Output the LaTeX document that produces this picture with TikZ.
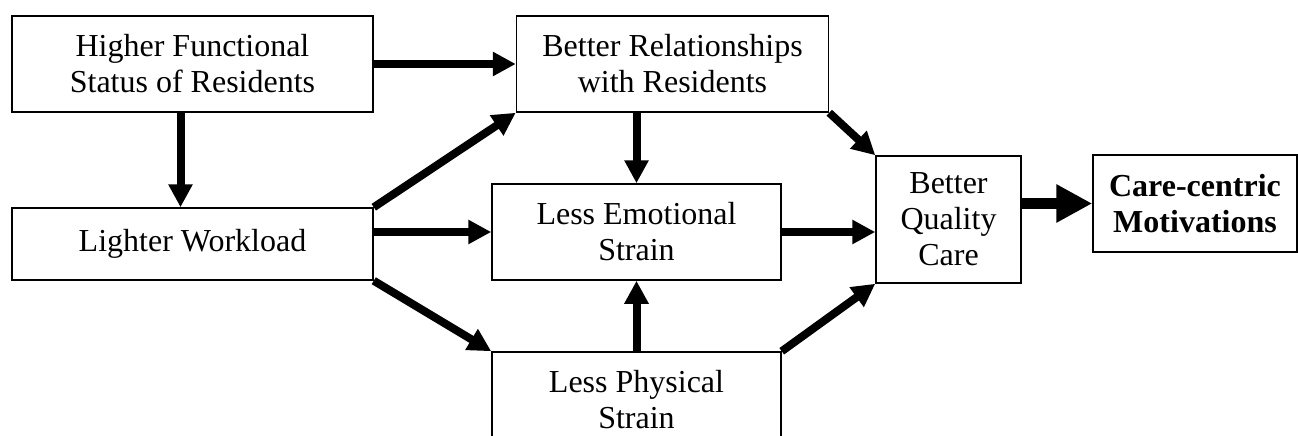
\documentclass[tikz,border=0pt]{standalone}
\usepackage{fontspec}
\setmainfont{Liberation Serif}
\usetikzlibrary{positioning}
\usetikzlibrary{calc}
\usetikzlibrary{arrows.meta}

\begin{document}
\begin{tikzpicture}[x=1pt, y=-1pt,
  box/.style={draw, line width=1.5pt, inner sep=0pt, align=center, font=\fontsize{32}{36}\selectfont},
  link/.style={line width=8pt, -{Triangle[length=23pt,width=23pt]}},
  biglink/.style={line width=11pt, -{Triangle[length=36pt,width=36pt]}}]
\useasboundingbox (0,0) rectangle (1298,436);
% left column
\node[box, minimum width=361pt, minimum height=96pt] (status) at (192.5,64) {Higher Functional\\Status of Residents};
\node[box, minimum width=361pt, minimum height=72pt] (workload) at (192.5,244) {Lighter Workload};
% middle column
\node[box, minimum width=312pt, minimum height=96pt] (relations) at (672.5,64) {Better Relationships\\with Residents};
\node[box, minimum width=289pt, minimum height=96pt] (emotional) at (636.5,232) {Less Emotional\\Strain};
\node[box, minimum width=289pt, minimum height=96pt] (physical) at (636.5,400) {Less Physical\\Strain};
% right column
\node[box, minimum width=145pt, minimum height=127pt] (quality) at (948.5,219.5) {Better\\Quality\\Care};
\node[box, minimum width=204pt, minimum height=97pt, font=\fontsize{32}{36}\selectfont\bfseries] (motives) at (1195,203.5) {Care-centric\\Motivations};
% links
\draw[link] (status) -- (relations);
\draw[link] ([xshift=-12pt]status.south) -- ([xshift=-12pt]workload.north);
\draw[link] (workload.north east) -- (relations.south west);
\draw[link] (workload.east |- emotional.west) -- (emotional.west);
\draw[link] (workload.south east) -- (physical.north west);
\draw[link] (emotional.north |- relations.south) -- (emotional.north);
\draw[link] (physical.north) -- (emotional.south);
\draw[link] (relations.south east) -- (quality.north west);
\draw[link] (emotional.east) -- (emotional.east -| quality.west);
\draw[link] (physical.north east) -- (quality.south west);
\draw[biglink] (quality.east |- motives.west) -- (motives.west);
\end{tikzpicture}
\end{document}
